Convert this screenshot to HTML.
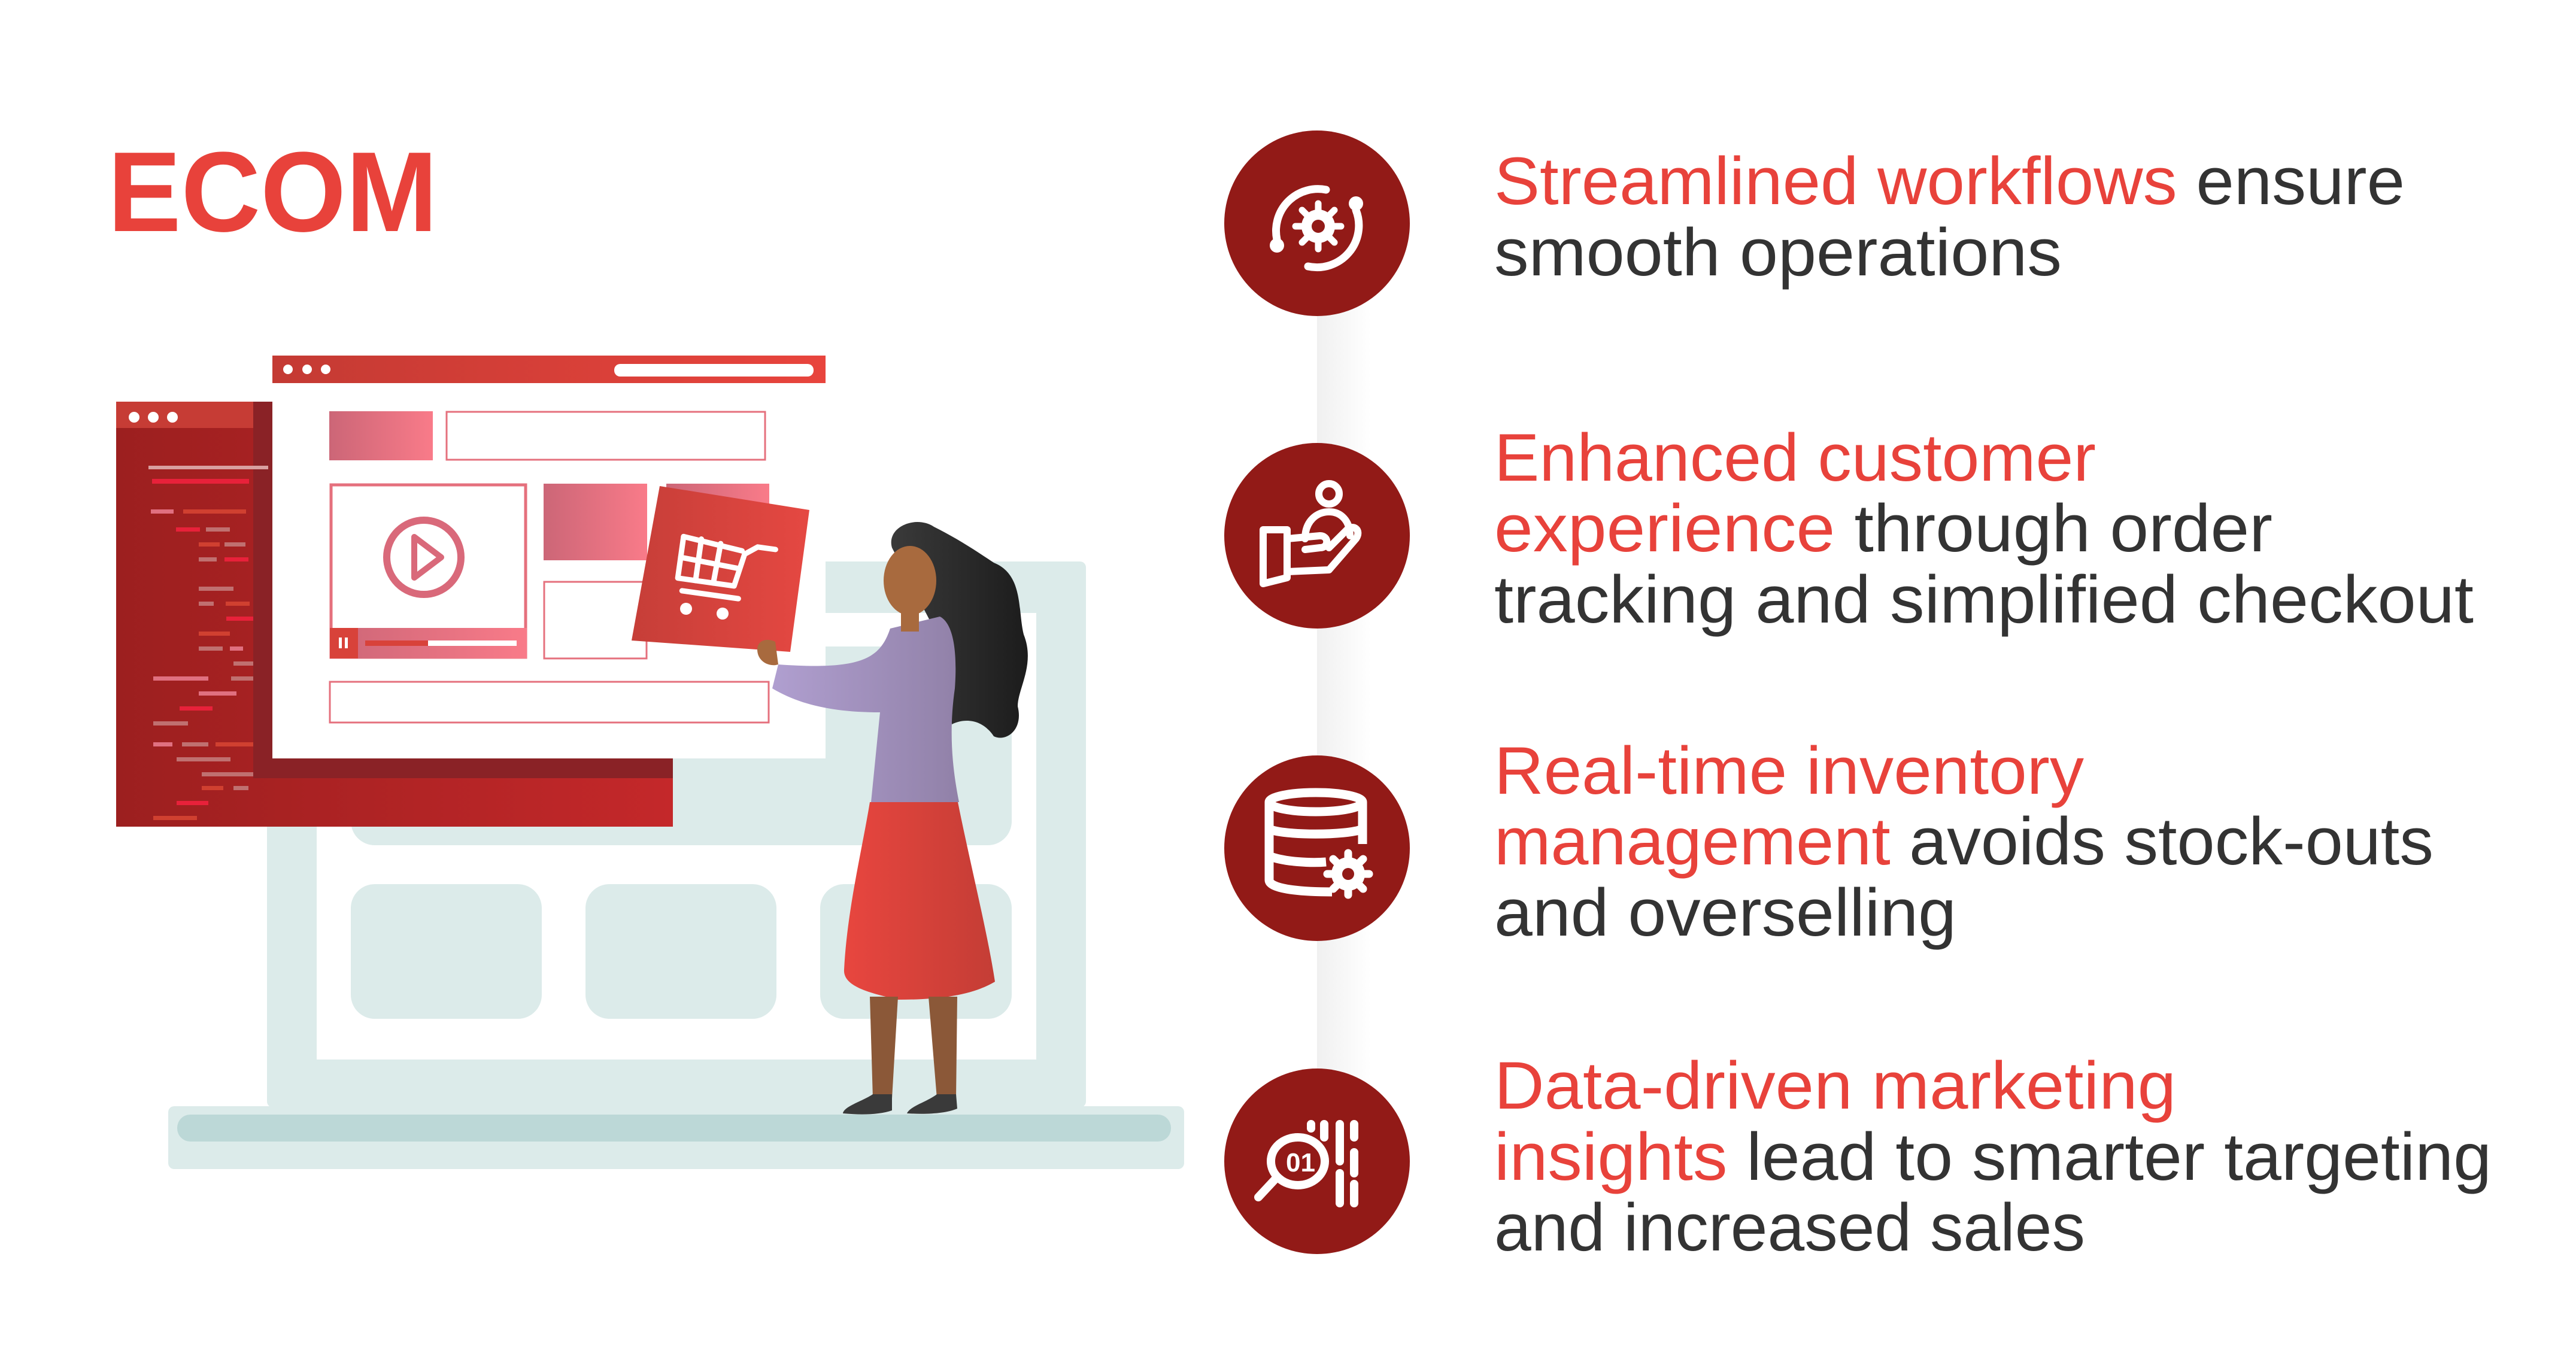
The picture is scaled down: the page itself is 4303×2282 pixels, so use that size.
<!DOCTYPE html>
<html><head><meta charset="utf-8"><style>
html,body{margin:0;padding:0;background:#fff;}
svg{display:block;}
text{font-family:"Liberation Sans",sans-serif;}
</style></head><body>
<svg width="4303" height="2282" viewBox="0 0 4303 2282" xmlns="http://www.w3.org/2000/svg">
<defs>
<linearGradient id="codeg" x1="0" x2="1"><stop offset="0" stop-color="#9c1f1f"/><stop offset="1" stop-color="#c4282a"/></linearGradient>
<linearGradient id="barg" x1="0" x2="1"><stop offset="0" stop-color="#c43a33"/><stop offset="1" stop-color="#e8443d"/></linearGradient>
<linearGradient id="pinkg" x1="0" x2="1"><stop offset="0" stop-color="#cc6677"/><stop offset="1" stop-color="#f97b89"/></linearGradient>
<linearGradient id="cartg" x1="0" x2="1"><stop offset="0" stop-color="#c63e38"/><stop offset="1" stop-color="#e54842"/></linearGradient>
<linearGradient id="hairg" x1="0" x2="1"><stop offset="0" stop-color="#3a3a3a"/><stop offset="1" stop-color="#1c1c1c"/></linearGradient>
<linearGradient id="purg" x1="0" x2="1"><stop offset="0" stop-color="#b09fd0"/><stop offset="1" stop-color="#9181a8"/></linearGradient>
<linearGradient id="skirtg" x1="0" x2="1"><stop offset="0" stop-color="#e8463f"/><stop offset="1" stop-color="#c43d35"/></linearGradient>
<linearGradient id="bandg" x1="0" x2="1"><stop offset="0" stop-color="#f0f0f0"/><stop offset="1" stop-color="#ffffff"/></linearGradient>
</defs>

<text x="180" y="386" font-size="190" font-weight="bold" fill="#e8423b" textLength="551" lengthAdjust="spacingAndGlyphs">ECOM</text>

<rect x="281" y="1848" width="1697" height="105" rx="10" fill="#dcebea"/>
<rect x="296" y="1862" width="1660" height="45" rx="22" fill="#bcd8d7"/>
<rect x="446" y="938" width="1368" height="912" rx="10" fill="#dcebea"/>
<rect x="529" y="1024" width="1202" height="746" fill="#ffffff"/>
<rect x="586" y="1080" width="1104" height="332" rx="40" fill="#dcebea"/>
<rect x="586" y="1477" width="319" height="225" rx="40" fill="#dcebea"/>
<rect x="978" y="1477" width="319" height="225" rx="40" fill="#dcebea"/>
<rect x="1370" y="1477" width="320" height="225" rx="40" fill="#dcebea"/>

<rect x="194" y="671" width="930" height="710" fill="url(#codeg)"/>
<rect x="194" y="671" width="930" height="44" fill="#c63c35"/>
<circle cx="224" cy="697" r="9" fill="#fff"/><circle cx="256" cy="697" r="9" fill="#fff"/><circle cx="288" cy="697" r="9" fill="#fff"/>
<rect x="423" y="671" width="701" height="629" fill="#8a2226"/>
<g>
<rect x="248" y="778" width="200" height="6" fill="#d9a0a0"/>
<rect x="254" y="800" width="162" height="8" fill="#e8213a"/>
<rect x="252" y="851" width="38" height="7" fill="#e07080"/><rect x="306" y="851" width="105" height="7" fill="#d04030"/>
<rect x="294" y="881" width="40" height="7" fill="#e8213a"/><rect x="344" y="881" width="40" height="7" fill="#c07070"/>
<rect x="332" y="906" width="35" height="7" fill="#d04030"/><rect x="375" y="906" width="35" height="7" fill="#c07070"/>
<rect x="332" y="931" width="30" height="7" fill="#c07070"/><rect x="375" y="931" width="40" height="7" fill="#e8213a"/>
<rect x="332" y="980" width="58" height="7" fill="#c07070"/>
<rect x="332" y="1005" width="25" height="7" fill="#c07070"/><rect x="377" y="1005" width="40" height="7" fill="#d04030"/>
<rect x="378" y="1030" width="45" height="7" fill="#e8213a"/>
<rect x="332" y="1055" width="52" height="7" fill="#d04030"/>
<rect x="332" y="1080" width="40" height="7" fill="#c07070"/><rect x="384" y="1080" width="22" height="7" fill="#e07080"/>
<rect x="390" y="1105" width="33" height="7" fill="#c07070"/>
<rect x="256" y="1130" width="92" height="7" fill="#e07080"/><rect x="386" y="1130" width="37" height="7" fill="#c07070"/>
<rect x="332" y="1155" width="63" height="7" fill="#e07080"/>
<rect x="300" y="1180" width="55" height="7" fill="#e8213a"/>
<rect x="256" y="1205" width="58" height="7" fill="#c07070"/>
<rect x="256" y="1240" width="32" height="7" fill="#e07080"/><rect x="304" y="1240" width="44" height="7" fill="#c07070"/><rect x="360" y="1240" width="63" height="7" fill="#d04030"/>
<rect x="295" y="1265" width="90" height="7" fill="#c07070"/>
<rect x="337" y="1290" width="86" height="7" fill="#c07070"/>
<rect x="337" y="1313" width="36" height="7" fill="#d04030"/><rect x="390" y="1313" width="25" height="7" fill="#c07070"/>
<rect x="295" y="1338" width="53" height="7" fill="#e8213a"/>
<rect x="256" y="1363" width="73" height="7" fill="#d04030"/>
</g>

<rect x="455" y="594" width="924" height="673" fill="#ffffff"/>
<rect x="455" y="594" width="924" height="46" fill="url(#barg)"/>
<circle cx="481" cy="617" r="8" fill="#fff"/><circle cx="513" cy="617" r="8" fill="#fff"/><circle cx="544" cy="617" r="8" fill="#fff"/>
<rect x="1026" y="608" width="333" height="21" rx="10" fill="#fff"/>
<rect x="550" y="687" width="173" height="82" fill="url(#pinkg)"/>
<rect x="746" y="688" width="532" height="80" fill="none" stroke="#e5707d" stroke-width="3"/>
<rect x="553" y="810" width="325" height="288" fill="none" stroke="#e5707d" stroke-width="5"/>
<rect x="551" y="1049" width="329" height="51" fill="url(#pinkg)"/>
<rect x="551" y="1049" width="47" height="51" fill="#d8423a"/>
<rect x="566" y="1065" width="5" height="18" fill="#fff"/><rect x="576" y="1065" width="5" height="18" fill="#fff"/>
<rect x="610" y="1070" width="105" height="9" fill="#d8423a"/><rect x="715" y="1070" width="148" height="9" fill="#fff"/>
<ellipse cx="708" cy="931" rx="62" ry="62" fill="none" stroke="#d9697a" stroke-width="12"/>
<path d="M692 897 L692 965 L737 931 Z" fill="none" stroke="#d9697a" stroke-width="10" stroke-linejoin="round"/>
<rect x="908" y="808" width="173" height="128" fill="url(#pinkg)"/>
<rect x="1113" y="808" width="172" height="60" fill="url(#pinkg)"/>
<rect x="909" y="972" width="171" height="128" fill="none" stroke="#e5707d" stroke-width="3"/>
<rect x="551" y="1139" width="733" height="68" fill="none" stroke="#e5707d" stroke-width="3"/>

<polygon points="1102,812 1352,852 1320,1089 1055,1070" fill="url(#cartg)"/>
<g stroke="#fff" stroke-width="9" fill="none" stroke-linecap="round" stroke-linejoin="round" transform="rotate(8 1200 950)">
<path d="M1135 905 L1135 975 L1230 975 L1240 920 L1260 905 L1290 905"/>
<path d="M1135 905 L1235 915"/><path d="M1135 940 L1232 945"/>
<path d="M1165 905 L1165 975"/><path d="M1198 908 L1195 975"/>
<path d="M1145 995 L1240 995"/>
</g>
<circle cx="1146" cy="1017" r="10" fill="#fff"/><circle cx="1207" cy="1025" r="10" fill="#fff"/>

<path d="M1490 915 C1480 880 1530 860 1560 880 C1600 900 1630 920 1660 940 C1710 960 1700 1020 1710 1060 C1730 1110 1700 1150 1700 1180 C1710 1220 1680 1240 1660 1230 C1640 1200 1610 1200 1590 1210 L1555 1040 Z" fill="url(#hairg)"/>
<path d="M1487 1050 C1470 1100 1440 1120 1300 1110 L1290 1150 C1340 1180 1400 1190 1470 1190 L1455 1340 L1602 1340 C1590 1280 1585 1220 1595 1150 C1600 1080 1590 1040 1570 1030 Z" fill="url(#purg)"/>
<ellipse cx="1520" cy="970" rx="44" ry="58" fill="#a86a3e"/>
<rect x="1505" y="1010" width="30" height="45" fill="#a86a3e"/>
<path d="M1265 1085 C1265 1070 1280 1065 1295 1072 L1300 1110 C1285 1115 1265 1105 1265 1085 Z" fill="#a86a3e"/>
<path d="M1453 1340 L1600 1340 C1620 1440 1650 1560 1662 1640 C1620 1665 1560 1670 1500 1670 C1460 1660 1408 1650 1410 1620 C1415 1520 1440 1420 1453 1340 Z" fill="url(#skirtg)"/>
<path d="M1453 1665 L1500 1665 L1490 1835 L1458 1835 Z" fill="#8b5838"/>
<path d="M1551 1665 L1599 1665 L1597 1835 L1565 1835 Z" fill="#8b5838"/>
<path d="M1458 1828 L1490 1828 L1490 1855 C1470 1862 1440 1863 1408 1860 C1410 1848 1440 1840 1458 1828 Z" fill="#3a3a3a"/>
<path d="M1565 1828 L1597 1828 L1599 1852 C1580 1860 1550 1862 1515 1860 C1520 1848 1550 1840 1565 1828 Z" fill="#3a3a3a"/>

<rect x="2200" y="380" width="90" height="1560" fill="url(#bandg)"/>

<g fill="#921a17">
<circle cx="2200" cy="373" r="155"/><circle cx="2200" cy="895" r="155"/>
<circle cx="2200" cy="1417" r="155"/><circle cx="2200" cy="1940" r="155"/>
</g>
<g transform="translate(-10,0)">
<g stroke="#fff" stroke-width="13" fill="none" stroke-linecap="round">
<path d="M2225 317 A70 70 0 0 0 2143 400"/>
<path d="M2275 351 A70 70 0 0 1 2195 445"/>
</g>
<circle cx="2143" cy="410" r="12" fill="#fff"/><circle cx="2275" cy="340" r="12" fill="#fff"/>
<circle cx="2212" cy="378" r="28" fill="#fff"/>
<g stroke="#fff" stroke-width="11" stroke-linecap="round"><path d="M2212 340 V416 M2174 378 H2250 M2185 351 L2239 405 M2239 351 L2185 405"/></g>
<circle cx="2212" cy="378" r="11" fill="#921a17"/>
<g stroke="#fff" stroke-width="12" fill="none" stroke-linecap="round" stroke-linejoin="round">
<circle cx="2230" cy="825" r="17"/>
<path d="M2190 900 C2190 870 2210 855 2230 855 C2250 855 2265 870 2265 895"/>
<path d="M2120 885 L2120 975 L2160 965 L2160 885 Z"/>
<path d="M2160 900 L2215 895 C2230 895 2230 915 2215 915 L2190 918"/>
<path d="M2160 955 L2230 952 L2275 900 C2285 885 2270 875 2260 885 L2230 915"/>
</g>
<g stroke="#fff" stroke-width="14" fill="none" stroke-linecap="round">
<ellipse cx="2178" cy="1940" rx="45" ry="40"/>
<path d="M2140 1970 L2112 2000"/>
<path d="M2200 1878 V1885 M2222 1878 V1900 M2248 1878 V1940 M2248 1960 V2010 M2272 1878 V1900 M2272 1925 V1960 M2272 1978 V2010"/>
</g>
<text x="2158" y="1957" font-size="44" font-weight="bold" fill="#fff">01</text>
</g>
<!-- database icon -->
<g stroke="#fff" stroke-width="15" fill="none" stroke-linejoin="round">
<ellipse cx="2198" cy="1340" rx="78" ry="16"/>
<path d="M2120 1340 V1470 C2120 1484 2165 1490 2225 1490"/>
<path d="M2276 1340 V1410"/>
<path d="M2120 1385 C2145 1396 2250 1396 2276 1385"/>
<path d="M2120 1430 C2145 1440 2190 1442 2215 1440"/>
</g>
<circle cx="2252" cy="1460" r="28" fill="#fff"/>
<g stroke="#fff" stroke-width="13" stroke-linecap="round"><path d="M2252 1425 V1495 M2217 1460 H2287 M2227 1435 L2277 1485 M2277 1435 L2227 1485"/></g>
<circle cx="2252" cy="1460" r="10" fill="#921a17"/>

<g font-size="112" fill="#333333">
<text x="2496" y="341" textLength="1521" lengthAdjust="spacingAndGlyphs"><tspan fill="#e8423b">Streamlined workflows</tspan> ensure</text>
<text x="2496" y="460" textLength="948" lengthAdjust="spacingAndGlyphs">smooth operations</text>
<text x="2496" y="803" textLength="1005" lengthAdjust="spacingAndGlyphs" fill="#e8423b">Enhanced customer</text>
<text x="2496" y="921" textLength="1300" lengthAdjust="spacingAndGlyphs"><tspan fill="#e8423b">experience</tspan> through order</text>
<text x="2496" y="1040" textLength="1636" lengthAdjust="spacingAndGlyphs">tracking and simplified checkout</text>
<text x="2496" y="1326" textLength="985" lengthAdjust="spacingAndGlyphs" fill="#e8423b">Real-time inventory</text>
<text x="2496" y="1444" textLength="1569" lengthAdjust="spacingAndGlyphs"><tspan fill="#e8423b">management</tspan> avoids stock-outs</text>
<text x="2496" y="1563" textLength="772" lengthAdjust="spacingAndGlyphs">and overselling</text>
<text x="2496" y="1852" textLength="1139" lengthAdjust="spacingAndGlyphs" fill="#e8423b">Data-driven marketing</text>
<text x="2496" y="1971" textLength="1666" lengthAdjust="spacingAndGlyphs"><tspan fill="#e8423b">insights</tspan> lead to smarter targeting</text>
<text x="2496" y="2089" textLength="987" lengthAdjust="spacingAndGlyphs">and increased sales</text>
</g>
</svg>
</body></html>
